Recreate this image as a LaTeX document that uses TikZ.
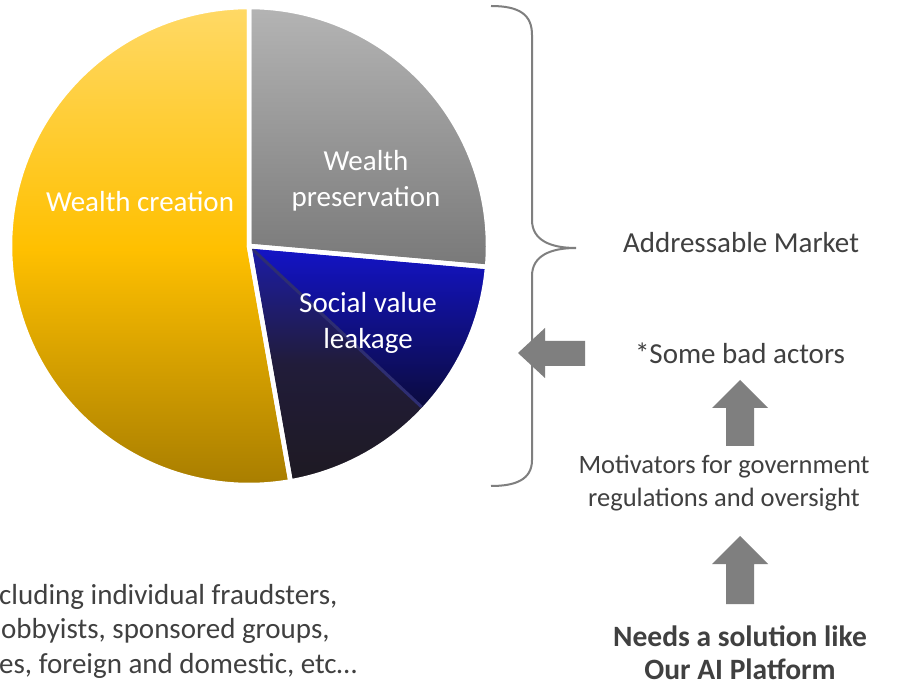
\documentclass[tikz,border=0pt]{standalone}
\usepackage{fontspec}
\setmainfont{Carlito}
\definecolor{textgray}{HTML}{404040}
\definecolor{arrowgray}{HTML}{7F7F7F}
\definecolor{bracegray}{HTML}{7F7F7F}
\definecolor{ytop}{HTML}{FFD966}
\definecolor{ymid}{HTML}{FFC000}
\definecolor{ybot}{HTML}{A67C00}
\definecolor{gtop}{HTML}{B4B4B4}
\definecolor{gbot}{HTML}{797979}
\definecolor{btop}{HTML}{1414C8}
\definecolor{bbot}{HTML}{0B0B3C}
\definecolor{dtop}{HTML}{1C1CA8}
\definecolor{dmid}{HTML}{211C3A}
\definecolor{dbot}{HTML}{1E1A22}
\definecolor{diag}{HTML}{2E2E72}
\begin{document}
\begin{tikzpicture}[x=1pt,y=1pt,
  lab/.style={text=white, align=center, inner sep=0pt, font=\fontsize{29}{36}\selectfont},
  txt/.style={text=textgray, align=center, inner sep=0pt, font=\fontsize{29}{33}\selectfont},
  lefttxt/.style={anchor=base west, inner sep=0pt, text=textgray, font=\fontsize{29}{33}\selectfont},
  slicebord/.style={draw=white, line width=4.5pt, line join=round},
  blockarrow/.style={fill=arrowgray},
  bracestyle/.style={draw=bracegray, line width=2pt}]
\fill[white] (0,0) rectangle (905,686);
\useasboundingbox (0,0) rectangle (905,686);
\coordinate (C) at (249,440);
\def\R{239}
% slices
\path[top color=ytop, bottom color=ybot, middle color=ymid]
  (C) -- ++(90:\R) arc[start angle=90, end angle=280, radius=\R] -- cycle;
\path[top color=gtop, bottom color=gbot]
  (C) -- ++(-5:\R) arc[start angle=-5, end angle=90, radius=\R] -- cycle;
\path[top color=btop, bottom color=bbot]
  (C) -- ++(-43:\R) arc[start angle=-43, end angle=-5, radius=\R] -- cycle;
\path[top color=dtop, bottom color=dbot, middle color=dmid]
  (C) -- ++(-80:\R) arc[start angle=-80, end angle=-43, radius=\R] -- cycle;
\draw[diag, line width=3pt] (C) -- ++(-43:\R-3);
% white borders
\draw[slicebord] (C) -- ++(90:\R) arc[start angle=90, end angle=280, radius=\R] -- cycle;
\draw[slicebord] (C) -- ++(-5:\R) arc[start angle=-5, end angle=90, radius=\R] -- cycle;
\draw[slicebord] (C) -- ++(-80:\R) arc[start angle=-80, end angle=-5, radius=\R] -- cycle;
% slice labels
\node[lab] (wc) at (140,484) {Wealth creation};
\node[lab] (wp) at (366,505) {Wealth\\preservation};
\node[lab] (sv) at (368,363) {Social value\\leakage};
% brace
\coordinate (brtop) at (491,680);
\coordinate (brtip) at (576,438);
\coordinate (brbot) at (491,200);
\draw[bracestyle] (brtop) .. controls (520,680) and (532,671) .. (532,651)
  -- (532,466) .. controls (532,446) and (550,438) .. (brtip)
  .. controls (550,438) and (532,430) .. (532,410)
  -- (532,226) .. controls (532,206) and (515,200) .. (brbot);
% right texts
\node[txt] (am) at (741,443) {Addressable Market};
\node[txt] (bad) at (740,333) {*Some bad actors};
\node[txt, font=\fontsize{26.5}{33}\selectfont] (mot) at (724,203) {Motivators for government\\regulations and oversight};
\node[txt, font=\bfseries\fontsize{29.5}{33}\selectfont] (need) at (740,33) {Needs a solution like\\Our AI Platform};
% block arrows
\coordinate (a0) at (518,333);
\fill[blockarrow] (a0) -- ++(27,25) -- ++(0,-13) -- ++(40,0) -- ++(0,-25) -- ++(-40,0) -- ++(0,-12) -- cycle;
\coordinate (a1) at (740,306);
\fill[blockarrow] (a1) -- ++(28,-28) -- ++(-14,0) -- ++(0,-38) -- ++(-28,0) -- ++(0,38) -- ++(-14,0) -- cycle;
\coordinate (a2) at (740,150);
\fill[blockarrow] (a2) -- ++(28,-28) -- ++(-14,0) -- ++(0,-40) -- ++(-28,0) -- ++(0,40) -- ++(-14,0) -- cycle;
% bottom-left text (clipped at picture edge)
\node[lefttxt] (l1) at (-1,82) {cluding individual fraudsters,};
\node[lefttxt] (l2) at (1,47.5) {obbyists, sponsored groups,};
\node[lefttxt] (l3) at (-1,13) {es, foreign and domestic, etc…};
\end{tikzpicture}
\end{document}
